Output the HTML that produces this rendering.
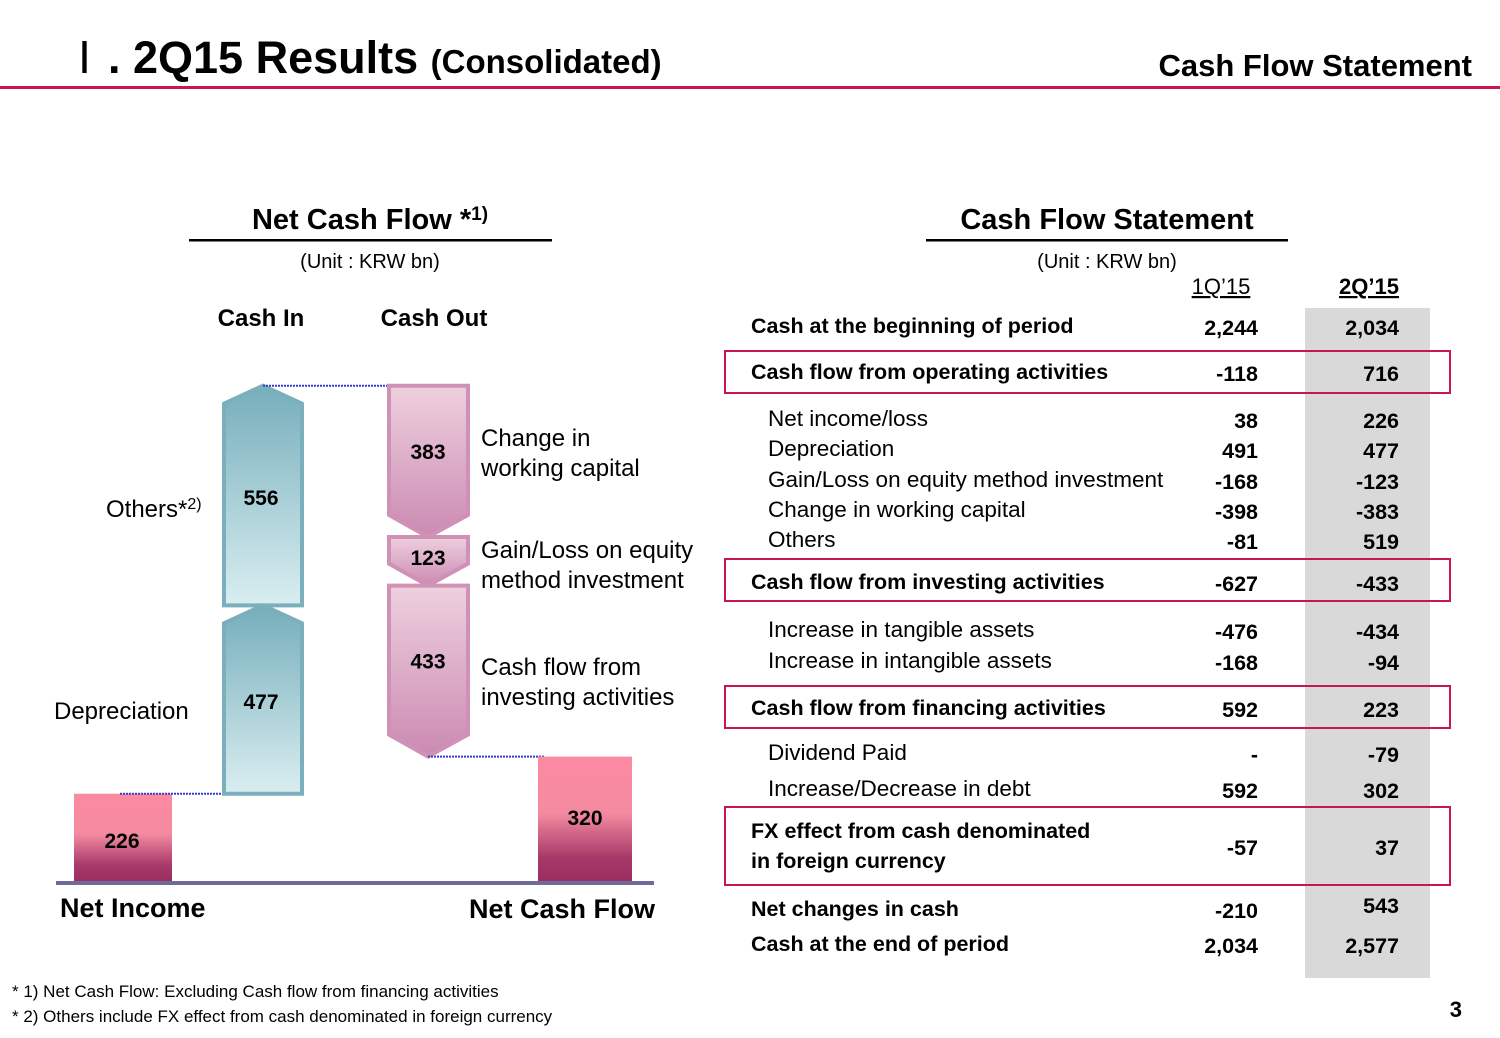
<!DOCTYPE html>
<html><head><meta charset="utf-8"><style>
html,body{margin:0;padding:0;background:#fff}
svg{display:block;font-family:"Liberation Sans",Arial,sans-serif}
</style></head><body>
<svg id="main" width="1500" height="1038" viewBox="0 0 1500 1038">
<defs>
<linearGradient id="teal" x1="0" y1="0" x2="0" y2="1"><stop offset="0" stop-color="#76aebb"/><stop offset="1" stop-color="#d9eef1"/></linearGradient>
<linearGradient id="pink" x1="0" y1="0" x2="0" y2="1"><stop offset="0" stop-color="#eed0de"/><stop offset="1" stop-color="#cb8ab2"/></linearGradient>
<linearGradient id="red" x1="0" y1="0" x2="0" y2="1"><stop offset="0" stop-color="#fb8aa1"/><stop offset="0.45" stop-color="#f48aa0"/><stop offset="0.8" stop-color="#a7386a"/><stop offset="1" stop-color="#982e5e"/></linearGradient>
</defs>
<text x="78" y="73" font-size="44" font-family="Liberation Serif,serif">Ⅰ</text>
<text x="108" y="73" font-size="45" font-weight="bold">. 2Q15 Results <tspan font-size="33">(Consolidated)</tspan></text>
<text x="1472" y="76" font-size="31" font-weight="bold" text-anchor="end">Cash Flow Statement</text>
<rect x="0" y="86" width="1500" height="3" fill="#c8164f"/>

<text x="370" y="229" font-size="29" font-weight="bold" text-anchor="middle">Net Cash Flow *<tspan font-size="19" dy="-9">1)</tspan></text>
<rect x="189" y="239" width="363" height="2.5" fill="#000"/>
<text x="370" y="268" font-size="20" text-anchor="middle">(Unit : KRW bn)</text>
<text x="261" y="326" font-size="24" font-weight="bold" text-anchor="middle">Cash In</text>
<text x="434" y="326" font-size="24" font-weight="bold" text-anchor="middle">Cash Out</text>
<g id="chart"></g>
<rect x="56" y="881" width="598" height="4" fill="#6e6a9c"/>
<text x="60" y="917" font-size="27" font-weight="bold">Net Income</text>
<text x="655" y="918" font-size="27" font-weight="bold" text-anchor="end">Net Cash Flow</text>
<text x="106" y="517" font-size="24">Others*<tspan font-size="16" dy="-8">2)</tspan></text>
<text x="54" y="719" font-size="24">Depreciation</text>
<text x="481" y="446" font-size="24">Change in</text>
<text x="481" y="476" font-size="24">working capital</text>
<text x="481" y="558" font-size="24">Gain/Loss on equity</text>
<text x="481" y="588" font-size="24">method investment</text>
<text x="481" y="675" font-size="24">Cash flow from</text>
<text x="481" y="705" font-size="24">investing activities</text>

<text x="12" y="997" font-size="17">* 1) Net Cash Flow: Excluding Cash flow from financing activities</text>
<text x="12" y="1022" font-size="17">* 2) Others include FX effect from cash denominated in foreign currency</text>
<text x="1462" y="1017" font-size="22" font-weight="bold" text-anchor="end">3</text>

<text x="1107" y="229" font-size="29" font-weight="bold" text-anchor="middle">Cash Flow Statement</text>
<rect x="926" y="239" width="362" height="2.5" fill="#000"/>
<text x="1107" y="268" font-size="20" text-anchor="middle">(Unit : KRW bn)</text>
<rect x="1305" y="308" width="125" height="670" fill="#d9d9d9"/>
<text x="1221" y="294" font-size="22" text-anchor="middle" text-decoration="underline">1Q’15</text>
<text x="1369" y="294" font-size="22" font-weight="bold" text-anchor="middle" text-decoration="underline">2Q’15</text>
<g id="table"></g>
</svg>
<script>
const NS="http://www.w3.org/2000/svg";
// chart data
const inLabels=["Net Income","Depreciation","Others"];
const inValues=[226,477,556];
const outLabels=["Change in working capital","Gain/Loss on equity method investment","Cash flow from investing activities"];
const outValues=[383,123,433];
const netCashFlow=[320];
const S=0.395, BASE=883;
const yv=v=>BASE-v*S;
const chart=document.getElementById('chart');
function mk(tag,attrs,parent){const e=document.createElementNS(NS,tag);for(const k in attrs)e.setAttribute(k,attrs[k]);(parent||chart).appendChild(e);return e;}
function label(x,y,t){const e=mk('text',{x:x,y:y,'font-size':21,'font-weight':'bold','text-anchor':'middle','dominant-baseline':'middle'});e.textContent=t;return e;}
let cum=inValues[0];
let b=mk('rect',{x:74,y:yv(cum),width:98,height:BASE-yv(cum),fill:'url(#red)'});


let t=label(122,(yv(cum)+BASE)/2+4,String(inValues[0]));


let prevTop=yv(cum);
let ln=mk('line',{x1:120,y1:prevTop,x2:222,y2:prevTop,stroke:'#3a3acc','stroke-width':2,'stroke-dasharray':'2,1'});


for(let i=1;i<inValues.length;i++){
  const y0=yv(cum);cum+=inValues[i];const y1=yv(cum);
  const L=224,R=302,C=263,tip=18;
  const p=mk('polygon',{points:`${L},${y0} ${L},${y1+tip} ${C},${y1} ${R},${y1+tip} ${R},${y0}`,fill:'url(#teal)',stroke:'#7aafbb','stroke-width':4});
  
  
  const tl=label(C-2,(y0+y1)/2+4,String(inValues[i]));
  
  
}
const topY=yv(cum);
ln=mk('line',{x1:263,y1:topY,x2:428,y2:topY,stroke:'#3a3acc','stroke-width':2,'stroke-dasharray':'2,1'});


const outNames=['working-capital','equity-method','investing'];
for(let i=0;i<outValues.length;i++){
  const y0=yv(cum);cum-=outValues[i];const y1=yv(cum);
  const L=389,R=468,C=428,tip=Math.min(22,(y1-y0)*0.45);
  const p=mk('polygon',{points:`${L},${y0} ${R},${y0} ${R},${y1-tip} ${C},${y1} ${L},${y1-tip}`,fill:'url(#pink)',stroke:'#cf91b6','stroke-width':4});
  
  
  const tl=label(C,(y0+y1)/2+(i===1?-2:-8),String(outValues[i]));
  
  
}
const ncfTop=yv(netCashFlow[0]);
ln=mk('line',{x1:428,y1:yv(cum),x2:545,y2:yv(cum),stroke:'#3a3acc','stroke-width':2,'stroke-dasharray':'2,1'});


b=mk('rect',{x:538,y:ncfTop,width:94,height:BASE-ncfTop,fill:'url(#red)'});


t=label(585,ncfTop+63,String(netCashFlow[0]));



// table data
const rowLabels=["Cash at the beginning of period","Cash flow from operating activities","Net income/loss","Depreciation","Gain/Loss on equity method investment","Change in working capital","Others","Cash flow from investing activities","Increase in tangible assets","Increase in intangible assets","Cash flow from financing activities","Dividend Paid","Increase/Decrease in debt","FX effect from cash denominated|in foreign currency","Net changes in cash","Cash at the end of period"];
const q1Values=["2,244","-118","38","491","-168","-398","-81","-627","-476","-168","592","-","592","-57","-210","2,034"];
const q2Values=["2,034","716","226","477","-123","-383","519","-433","-434","-94","223","-79","302","37","543","2,577"];
const rowY=[326,372,419,449,480,510,540,582,630,661,708,753,789,831,909,944];
const bold=[1,1,0,0,0,0,0,1,0,0,1,0,0,1,1,1];
const boxed=[[351,393],[559,601],[686,728],[807,885]];
const tbl=document.getElementById('table');
boxed.forEach(r=>{const e=mk('rect',{x:725,y:r[0],width:725,height:r[1]-r[0],fill:'none',stroke:'#c8164f','stroke-width':2},tbl);

});
rowLabels.forEach((lab,i)=>{
  const x=bold[i]?751:768, y=rowY[i]+7;
  const parts=lab.split('|');
  parts.forEach((p,j)=>{const e=mk('text',{x:x,y:y+j*30,'font-size':bold[i]?21.5:22.5,'font-weight':bold[i]?'bold':'normal'},tbl);e.textContent=p;
  
  });
  const vy=parts.length>1?y+17:y+2;
  const a=mk('text',{x:1258,y:vy,'font-size':21.5,'font-weight':'bold','text-anchor':'end'},tbl);a.textContent=q1Values[i];
  
  
  const c=mk('text',{x:1399,y:(i===14?vy-5:vy),'font-size':21.5,'font-weight':'bold','text-anchor':'end'},tbl);c.textContent=q2Values[i];
  
  
});
</script>
</body></html>
